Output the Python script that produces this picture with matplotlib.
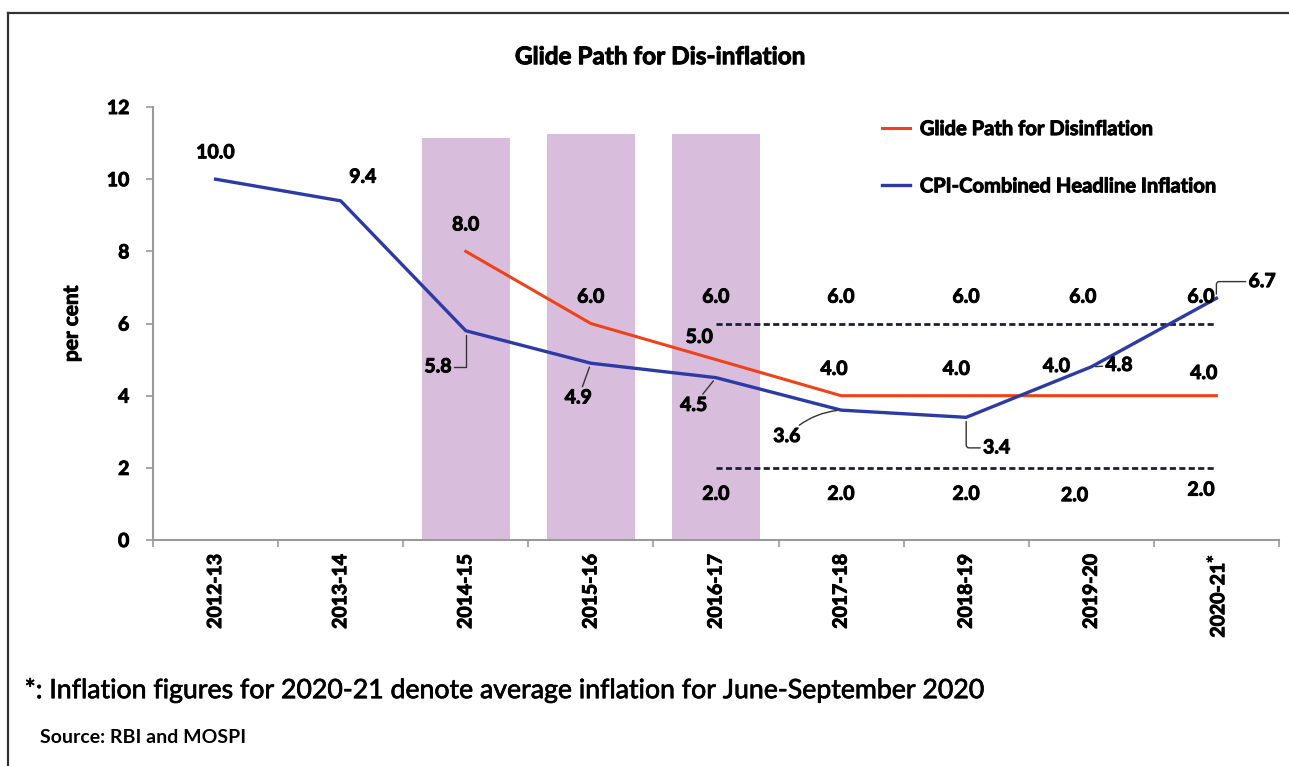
import numpy as np
import matplotlib
matplotlib.use("Agg")
from matplotlib import pyplot as plt
from matplotlib.lines import Line2D
import matplotlib.patheffects as pe

plt.rcParams['font.family'] = ['Lato', 'DejaVu Sans']

years = ['2012-13', '2013-14', '2014-15', '2015-16', '2016-17',
         '2017-18', '2018-19', '2019-20', '2020-21']
cpi = [10.0, 9.4, 5.8, 4.9, 4.5, 3.6, 3.4, 4.8, 6.7]
glide = [np.nan, np.nan, 8.0, 6.0, 5.0, 4.0, 4.0, 4.0, 4.0]
upper_band = [np.nan, np.nan, np.nan, np.nan, 6.0, 6.0, 6.0, 6.0, 6.0]
lower_band = [np.nan, np.nan, np.nan, np.nan, 2.0, 2.0, 2.0, 2.0, 2.0]
shade_idx = [2, 3, 4]
shade_top = [11.15, 11.25, 11.25]

BLUE = '#2c3aa5'
RED = '#ee4218'
SHADE = '#d8bedc'
DASH = '#1c1c3c'
GREY = '#9a9a9a'
thick = [pe.withStroke(linewidth=0.7, foreground='black')]

fig = plt.figure(figsize=(12.89, 7.66), dpi=100)
ax = fig.add_axes([0.1187, 0.295, 0.8735, 0.5653])

x = np.arange(len(years))
ax.bar(shade_idx, shade_top, width=0.7, color=SHADE, zorder=1)
ax.plot(x, upper_band, ls=(0, (2.2, 1.2)), color=DASH, lw=2, zorder=2)
ax.plot(x, lower_band, ls=(0, (2.2, 1.2)), color=DASH, lw=2, zorder=2)
ax.plot(x, glide, color=RED, lw=2.2, zorder=3, label='Glide Path for Disinflation')
ax.plot(x, cpi, color=BLUE, lw=2.4, zorder=4, label='CPI-Combined Headline Inflation')

ax.set_xlim(-0.5, len(years) - 0.5)
ax.set_ylim(0, 12)
ax.set_yticks(range(0, 13, 2))
ax.set_xticks(x)
ax.set_xticklabels(years[:-1] + [years[-1] + '$^{*}$'], rotation=90,
                   fontsize=14, fontweight='bold')
ax.set_xticks(np.arange(-0.5, len(years)), minor=True)
ax.tick_params(axis='x', which='major', length=0, pad=10)
ax.tick_params(axis='x', which='minor', length=5, color=GREY, width=1.2)
ax.tick_params(axis='y', length=5, color=GREY, width=1.2, labelsize=14, pad=12)
for t in ax.get_yticklabels() + ax.get_xticklabels():
    t.set_fontweight('bold')
    t.set_path_effects(thick)
for s in ['top', 'right']:
    ax.spines[s].set_visible(False)
for s in ['left', 'bottom']:
    ax.spines[s].set_color(GREY)
    ax.spines[s].set_linewidth(1.5)

ax.set_ylabel('per cent', fontsize=15, fontweight='bold', labelpad=18,
              path_effects=thick)

lab = dict(fontsize=14, fontweight='bold', ha='center', va='center',
           textcoords='offset points', zorder=6, path_effects=thick)
lead = dict(arrowstyle='-', color='#333333', lw=1, shrinkA=0, shrinkB=3)

# CPI labels (offsets in points)
cpi_off = [(0, 19), (16, 17), (-20, -26), (-9, -25), (-16, -20),
           (-39, -19), (22, -22), (20, 1), (33, 12)]
cpi_conn = [None, None, 'angle,angleA=0,angleB=90,rad=0', 'arc3',
            'arc3', 'arc3,rad=-0.2', 'angle,angleA=0,angleB=90,rad=3',
            'arc3', 'angle,angleA=0,angleB=90,rad=3']
for i, v in enumerate(cpi):
    kw = dict(lab)
    if cpi_conn[i]:
        kw['arrowprops'] = dict(lead, connectionstyle=cpi_conn[i])
    ax.annotate(f'{v:.1f}', (x[i], v), xytext=cpi_off[i], **kw)

glide_off = [None, None, (0, 19), (0, 19), (-12, 16), (-5, 19), (-7, 19), (-25, 21), (-9, 16)]
for i, v in enumerate(glide):
    if not np.isnan(v):
        ax.annotate(f'{v:.1f}', (x[i], v), xytext=glide_off[i], **lab)

band_dx = [0, 0, 0, 0, 0, 0, 0, -6, -11]
for i in range(len(years)):
    if not np.isnan(upper_band[i]):
        ax.annotate(f'{upper_band[i]:.1f}', (x[i], upper_band[i]),
                    xytext=(band_dx[i], 19), **lab)
        dy = -19 if i < 8 else -16
        ax.annotate(f'{lower_band[i]:.1f}', (x[i], lower_band[i]),
                    xytext=(band_dx[i] if i != 7 else -12, dy - (1 if i == 7 else 0)), **lab)

leg = ax.legend(loc='upper left', bbox_to_anchor=(0.631, 1.014), frameon=False,
                handlelength=1.4, handletextpad=0.5, labelspacing=1.85,
                prop={'size': 14.5, 'weight': 'bold'})
for t in leg.get_texts():
    t.set_path_effects(thick)

fig.text(0.512, 0.926, 'Glide Path for Dis-inflation', ha='center', va='center',
         fontsize=17.5, fontweight='bold', path_effects=thick)
fig.text(0.019, 0.099, '*: Inflation figures for 2020-21 denote average inflation for June-September 2020',
         ha='left', va='center', fontsize=19.2,
         path_effects=[pe.withStroke(linewidth=0.5, foreground='black')])
fig.text(0.031, 0.037, 'Source: RBI and MOSPI', ha='left', va='center',
         fontsize=14, fontweight='bold')

# outer frame (left and top edges)
fig.add_artist(Line2D([0.0062, 0.0062], [0, 0.983], color='#333333', lw=1.6))
fig.add_artist(Line2D([0.0062, 1.0], [0.983, 0.983], color='#333333', lw=1.6))

fig.savefig('out.png', dpi=100)
